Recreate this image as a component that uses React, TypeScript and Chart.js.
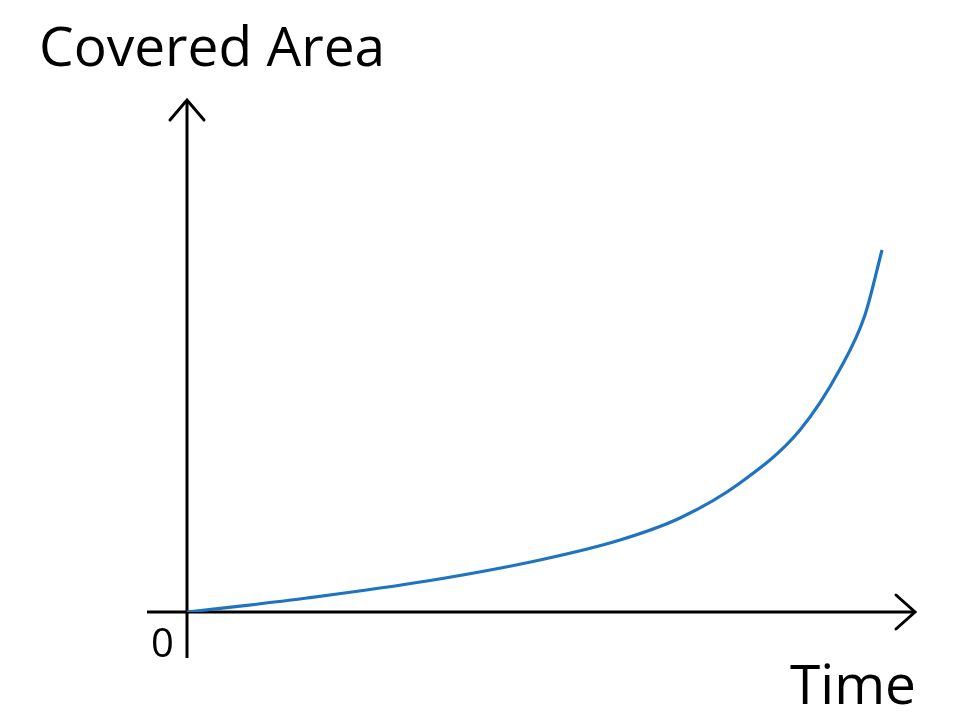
import React, { useEffect, useRef } from "react";
import { Chart, registerables } from "chart.js";

Chart.register(...registerables);

const timeValues = [0, 8.2, 16.48, 32.97, 48.49, 59.48, 67.72, 75.96, 84.2, 89.7, 93.13, 95.47];
const areaValues = [0, 1.3, 2.73, 6.05, 10.16, 14.06, 18.36, 25.2, 35.55, 47.46, 58.01, 70.7];

const yAxisTitle = "Covered Area";
const xAxisTitle = "Time";
const originLabel = "0";

const axesPlugin = {
  id: "arrowAxes",
  beforeDatasetsDraw(chart: any) {
    const ctx = chart.ctx;
    const xs = chart.scales.x;
    const ys = chart.scales.y;
    const ox = xs.getPixelForValue(0);
    const oy = ys.getPixelForValue(0);
    const xEnd = xs.right;
    const yEnd = ys.top;
    ctx.save();
    ctx.strokeStyle = "#000";
    ctx.lineWidth = 3;
    ctx.lineCap = "butt";
    ctx.beginPath();
    ctx.moveTo(ox - 40, oy);
    ctx.lineTo(xEnd - 1, oy);
    ctx.stroke();
    ctx.beginPath();
    ctx.moveTo(ox, oy + 46);
    ctx.lineTo(ox, yEnd + 1);
    ctx.stroke();
    ctx.lineCap = "round";
    ctx.lineJoin = "miter";
    ctx.beginPath();
    ctx.moveTo(xEnd - 19, oy - 17);
    ctx.lineTo(xEnd, oy);
    ctx.lineTo(xEnd - 19, oy + 17);
    ctx.stroke();
    ctx.beginPath();
    ctx.moveTo(ox - 17, yEnd + 20);
    ctx.lineTo(ox, yEnd);
    ctx.lineTo(ox + 17, yEnd + 20);
    ctx.stroke();
    ctx.fillStyle = "#000";
    ctx.textBaseline = "alphabetic";
    ctx.font = "55px 'Open Sans'";
    ctx.textAlign = "left";
    ctx.fillText(yAxisTitle, 39, 66);
    ctx.textAlign = "right";
    ctx.fillText(xAxisTitle, xEnd + 1, 704);
    ctx.font = "40px 'Open Sans'";
    ctx.textAlign = "left";
    ctx.fillText(originLabel, 151, 657);
    ctx.restore();
  },
};

export default function App() {
  const ref = useRef<HTMLCanvasElement>(null);
  useEffect(() => {
    document.body.style.margin = "0";
    const chart = new Chart(ref.current!, {
      type: "line",
      data: {
        datasets: [
          {
            data: timeValues.map((t, i) => ({ x: t, y: areaValues[i] })),
            borderColor: "#1f74bf",
            borderWidth: 3.2,
            pointRadius: 0,
            cubicInterpolationMode: "monotone",
            fill: false,
          },
        ],
      },
      options: {
        animation: false,
        responsive: false,
        maintainAspectRatio: false,
        layout: { padding: { left: 187, right: 46, top: 100, bottom: 114 } },
        plugins: { legend: { display: false }, tooltip: { enabled: false } },
        scales: {
          x: { type: "linear", min: 0, max: 100, display: false },
          y: { type: "linear", min: 0, max: 100, display: false },
        },
      },
      plugins: [axesPlugin],
    });
    return () => chart.destroy();
  }, []);
  return (
    <div style={{ position: "fixed", left: 0, top: 0, width: 961, height: 726, background: "#fff" }}>
      <canvas ref={ref} width={961} height={726} />
    </div>
  );
}
